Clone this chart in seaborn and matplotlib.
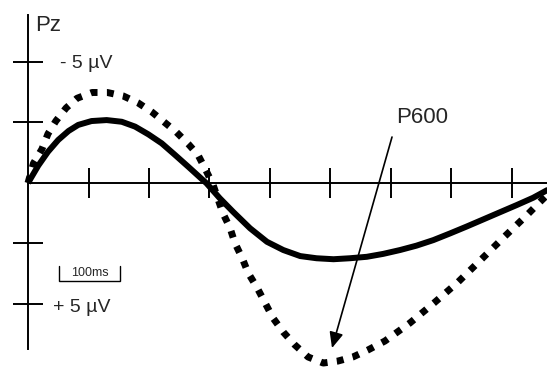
import matplotlib
matplotlib.use("Agg")
import matplotlib.pyplot as plt
import seaborn as sns
import pandas as pd

# ---- data (time in ms, amplitude in µV; negative plotted upward) ----
time_solid = [0, 17, 33, 50, 67, 83, 105, 130, 155, 177, 199, 221, 243, 265,
              287, 295, 317, 339, 367, 395, 422, 450, 477, 505, 532, 560, 587,
              615, 642, 670, 698, 725, 753, 780, 808, 835, 860]
amp_solid = [0, -0.72, -1.29, -1.78, -2.15, -2.40, -2.56, -2.60, -2.53, -2.33,
             -2.01, -1.64, -1.16, -0.67, -0.17, 0.01, 0.63, 1.19, 1.87, 2.43,
             2.77, 3.02, 3.11, 3.15, 3.11, 3.05, 2.93, 2.77, 2.59, 2.36, 2.08,
             1.80, 1.50, 1.21, 0.91, 0.61, 0.27]

time_dotted = [0, 9, 23, 33, 46, 63, 81, 106, 131, 157, 182, 205, 225, 245,
               265, 281, 293, 306, 314, 322, 334, 342, 354, 364, 379, 392, 405,
               422, 441, 463, 488, 512, 537, 562, 590, 631, 671, 711, 750, 787,
               825, 846, 862]
amp_dotted = [0, -0.81, -1.40, -2.03, -2.56, -3.10, -3.50, -3.74, -3.74, -3.60,
              -3.31, -2.93, -2.52, -2.11, -1.61, -1.16, -0.58, 0.08, 0.66, 1.24,
              1.86, 2.48, 3.10, 3.72, 4.34, 4.96, 5.58, 6.16, 6.69, 7.19, 7.44,
              7.36, 7.19, 6.90, 6.53, 5.79, 4.96, 4.09, 3.14, 2.23, 1.32, 0.79,
              0.40]

x_ticks_ms = [100, 200, 300, 400, 500, 600, 700, 800]
y_ticks_uv = [-5, -2.5, 2.5, 5]
y_tick_text = ["- 5 µV", "+ 5 µV"]
channel_label = "Pz"
component_label = "P600"
scale_label = "100ms"

sns.set_style("white")
plt.rcParams["font.family"] = ["Liberation Sans", "DejaVu Sans"]

fig = plt.figure(figsize=(5.47, 3.68), dpi=100)
ax = fig.add_axes([0, 0, 1, 1])

df_s = pd.DataFrame({"t": time_solid, "v": amp_solid})
df_d = pd.DataFrame({"t": time_dotted, "v": amp_dotted})
sns.lineplot(data=df_s, x="t", y="v", ax=ax, color="black", linewidth=4.3,
             estimator=None, sort=False, solid_capstyle="butt",
             solid_joinstyle="round")
sns.lineplot(data=df_d, x="t", y="v", ax=ax, color="black", linewidth=5.0,
             estimator=None, sort=False, linestyle=(0, (1, 1.35)),
             dash_capstyle="butt")

ax.set_xlim(-46.3, 857.9)
ax.set_ylim(7.645, -7.562)
ax.set_xlabel("")
ax.set_ylabel("")

for s in ["top", "right"]:
    ax.spines[s].set_visible(False)
ax.spines["left"].set_position(("data", 0))
ax.spines["bottom"].set_position(("data", 0))
ax.spines["left"].set_bounds(-6.94, 6.86)
ax.spines["bottom"].set_bounds(0, 900)
for s in ["left", "bottom"]:
    ax.spines[s].set_linewidth(1.4)
    ax.spines[s].set_color("black")

ax.set_xticks(x_ticks_ms)
ax.set_yticks(y_ticks_uv)
ax.tick_params(axis="x", direction="inout", length=22.3, width=1.4,
               color="black", labelbottom=False, bottom=True)
ax.tick_params(axis="y", direction="inout", length=22.3, width=1.4,
               color="black", labelleft=False, left=True)

# texts
ax.text(11.6, -6.28, channel_label, fontsize=16, va="baseline", ha="left")
ax.text(52.9, -4.75, y_tick_text[0], fontsize=14, va="baseline", ha="left")
ax.text(41.3, 5.33, y_tick_text[1], fontsize=14, va="baseline", ha="left")
ax.text(608, -2.48, component_label, fontsize=16, va="baseline", ha="left")

# scale bar 100 ms
ax.plot([51.2, 51.2, 152.1, 152.1], [3.43, 4.05, 4.05, 3.43], color="black",
        linewidth=1.0, solid_joinstyle="miter")
ax.text(101.6, 3.84, scale_label, fontsize=9, va="baseline", ha="center")

# arrow pointing to P600
ax.annotate("", xy=(502.5, 6.82), xytext=(601.7, -1.90),
            arrowprops=dict(arrowstyle="-|>,head_length=0.95,head_width=0.42",
                            color="black", lw=1.2, shrinkA=0, shrinkB=0,
                            mutation_scale=10))

fig.savefig("out.png", dpi=100)
